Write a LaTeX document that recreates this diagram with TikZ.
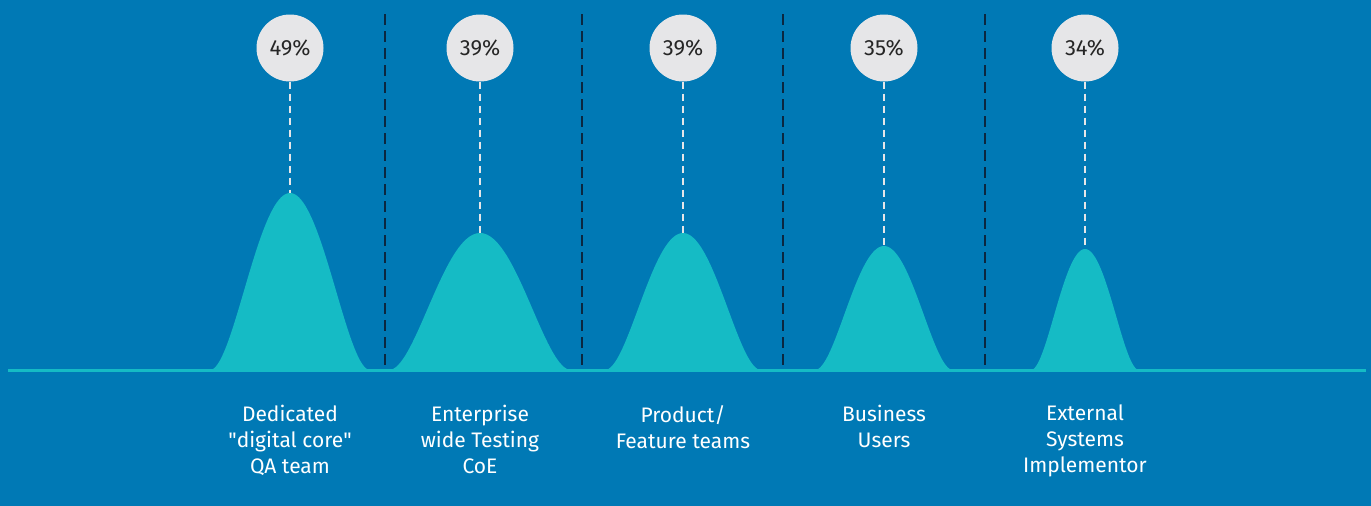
\documentclass[tikz,border=0pt]{standalone}
\usepackage{fontspec}
\setmainfont{Fira Sans}
\usepackage{tikz}
\usetikzlibrary{calc}
\definecolor{bgblue}{HTML}{0079B5}
\definecolor{teal}{HTML}{15BBC5}
\definecolor{pale}{HTML}{E6E6E8}
\definecolor{navy}{HTML}{0B2740}
\tikzset{
	percent/.style={circle,fill=pale,minimum size=67,inner sep=0pt,text=black!85,font=\fontsize{22}{24}\selectfont},
	caption/.style={align=center,text=white,font=\fontsize{21}{26}\selectfont,anchor=north,inner sep=0pt},
	leader/.style={draw=pale,line width=2.6pt,dash pattern=on 7pt off 5pt},
	divider/.style={draw=navy,line width=1.6pt,dash pattern=on 11pt off 6pt},
	bell/.style={fill=teal}
	}

\begin{document}
\begin{tikzpicture}[x=1pt,y=-1pt]
		\fill[bgblue] (0,0) rectangle (1371,506);
		% bells, (1-t^2)^2 profile
		\fill[bell] plot[domain=-80:80,samples=80] ({290+\x},{370-177*(1-(\x/80)^2)^2}) -- cycle;
		\fill[bell] plot[domain=-91:91,samples=80] ({480+\x},{370-137*(1-(\x/91)^2)^2}) -- cycle;
		\fill[bell] plot[domain=-78:78,samples=80] ({683+\x},{370-137*(1-(\x/78)^2)^2}) -- cycle;
		\fill[bell] plot[domain=-69:69,samples=80] ({884+\x},{370-124*(1-(\x/69)^2)^2}) -- cycle;
		\fill[bell] plot[domain=-54:54,samples=80] ({1085+\x},{370-121*(1-(\x/54)^2)^2}) -- cycle;
		\coordinate (left) at (8,370);
		\coordinate (right) at (1366,370);
		\draw[teal,line width=3pt] (left) -- (right);
		% dividers
		\coordinate (d1t) at (385,14); \coordinate (d1b) at (385,370);
		\coordinate (d2t) at (582,14); \coordinate (d2b) at (582,370);
		\coordinate (d3t) at (783,14); \coordinate (d3b) at (783,370);
		\coordinate (d4t) at (985,14); \coordinate (d4b) at (985,370);
		\draw[divider] (d1t) -- (d1b);
		\draw[divider] (d2t) -- (d2b);
		\draw[divider] (d3t) -- (d3b);
		\draw[divider] (d4t) -- (d4b);
		% peaks
		\coordinate (p1) at (290,193);
		\coordinate (p2) at (480,233);
		\coordinate (p3) at (683,233);
		\coordinate (p4) at (884,246);
		\coordinate (p5) at (1085,249);
		\node[percent] (c1) at (290,48) {49\%};
		\node[percent] (c2) at (480,48) {39\%};
		\node[percent] (c3) at (683,48) {39\%};
		\node[percent] (c4) at (884,48) {35\%};
		\node[percent] (c5) at (1085,48) {34\%};
		\draw[leader] (c1) -- (p1);
		\draw[leader] (c2) -- (p2);
		\draw[leader] (c3) -- (p3);
		\draw[leader] (c4) -- (p4);
		\draw[leader] (c5) -- (p5);
		% labels
		\node[caption] (t1) at (290,405) {Dedicated\\\textquotedbl digital core\textquotedbl\\QA team};
		\node[caption] (t2) at (480,405) {Enterprise\\wide Testing\\CoE};
		\node[caption] (t3) at (683,405) {Product/\\Feature teams};
		\node[caption] (t4) at (884,405) {Business\\Users};
		\node[caption] (t5) at (1085,405) {External\\Systems\\Implementor};
\end{tikzpicture}
\end{document}
